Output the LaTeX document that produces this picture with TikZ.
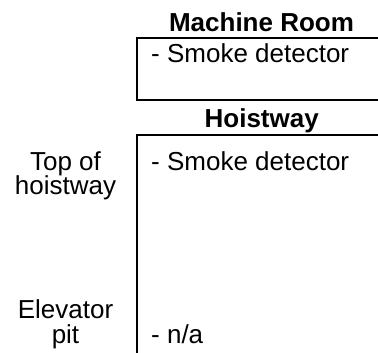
\documentclass[tikz,border=0pt]{standalone}
\usepackage{fontspec}
\setmainfont{Liberation Sans}
\begin{document}
\begin{tikzpicture}[x=1pt,y=-1pt,
  lbl/.style={font=\fontsize{26}{24.5}\selectfont, inner sep=0pt, anchor=base},
  ttl/.style={lbl, font=\fontsize{26}{24.5}\selectfont\bfseries},
  side/.style={lbl, align=center},
  item/.style={lbl, anchor=base west},
  wall/.style={line width=2pt}]
\useasboundingbox (0,0) rectangle (378,353);

% machine room
\node[ttl] (mrtitle) at (261.5,32) {Machine Room};
\coordinate (mrTR) at (378,38);
\coordinate (mrTL) at (137,38);
\coordinate (mrBL) at (137,100);
\coordinate (mrBR) at (378,100);
\draw[wall] (mrTR) -- (mrTL) -- (mrBL) -- (mrBR);
\node[item] (mrsmoke) at (151,63) {- Smoke detector};

% hoistway
\node[ttl] (hwtitle) at (261.7,128) {Hoistway};
\coordinate (hwTR) at (378,135.5);
\coordinate (hwTL) at (137,135.5);
\coordinate (hwB) at (137,353);
\draw[wall] (hwTR) -- (hwTL) -- (hwB);
\node[item] (hwsmoke) at (151,170) {- Smoke detector};
\node[item] (hwna) at (151,343) {- n/a};

% level labels (anchored on the baseline of the second line)
\node[side] (toplbl) at (65.5,194.5) {Top of\\hoistway};
\node[side] (pitlbl) at (65.5,343) {Elevator\\pit};
\end{tikzpicture}
\end{document}
